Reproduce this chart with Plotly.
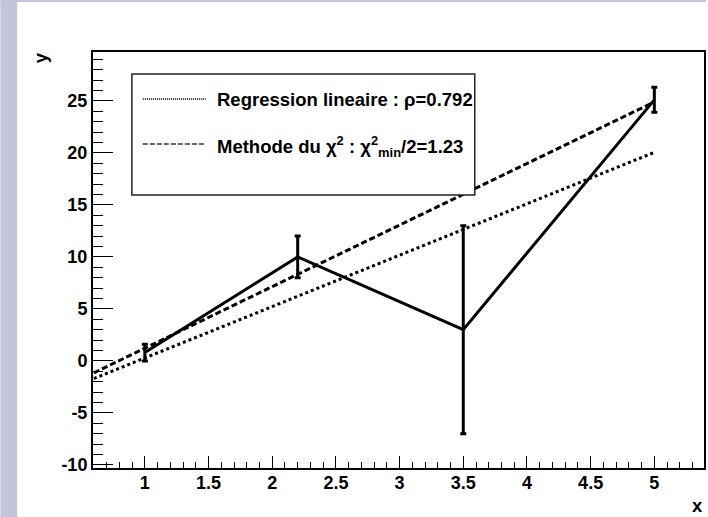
import plotly.graph_objects as go

# Data points with errors
x_pts = [1.0, 2.2, 3.5, 5.0]
y_pts = [0.8, 10.0, 3.0, 25.1]
ey_pts = [0.8, 2.0, 10.0, 1.2]

# Fit lines (end points)
fit_x = [0.6, 5.0]
reg_y = [-1.7, 20.05]    # Regression lineaire
chi2_y = [-1.15, 24.9]   # Methode du chi2

x_ticks = [1, 1.5, 2, 2.5, 3, 3.5, 4, 4.5, 5]
x_labels = ["1", "1.5", "2", "2.5", "3", "3.5", "4", "4.5", "5"]
y_ticks = [-10, -5, 0, 5, 10, 15, 20, 25]
y_labels = ["-10", "-5", "0", "5", "10", "15", "20", "25"]

W, H = 708, 517
L, T, R, B = 93, 52, 706, 468


def px(p):
    return (p - L) / (R - L)


def py(q):
    return (B - q) / (B - T)


fig = go.Figure()

fig.add_trace(go.Scatter(x=fit_x, y=reg_y, mode="lines",
                         line=dict(color="black", width=3, dash="3px,3px"),
                         showlegend=False))
fig.add_trace(go.Scatter(x=fit_x, y=chi2_y, mode="lines",
                         line=dict(color="black", width=3, dash="6px,3px"),
                         showlegend=False))
fig.add_trace(go.Scatter(x=x_pts, y=y_pts, mode="lines",
                         line=dict(color="black", width=3),
                         error_y=dict(type="data", array=ey_pts, visible=True,
                                      color="black", thickness=3, width=3),
                         showlegend=False))

tickfont = dict(family="Liberation Sans, Arial", size=18, color="black")

fig.update_xaxes(range=[0.593, 5.39], tickvals=x_ticks,
                 ticktext=["<b>%s</b>" % s for s in x_labels],
                 ticks="inside", ticklen=12, tickwidth=1, tickcolor="black",
                 minor=dict(dtick=0.1, tick0=0, ticks="inside", ticklen=6,
                            tickcolor="black", tickwidth=1),
                 showline=True, linecolor="black", linewidth=2, mirror=True,
                 showgrid=False, zeroline=False, tickfont=tickfont,
                 ticklabelstandoff=-3)
fig.update_yaxes(range=[-10.3, 29.7], tickvals=y_ticks,
                 ticktext=["<b>%s</b>" % s for s in y_labels],
                 ticks="inside", ticklen=20, tickwidth=1, tickcolor="black",
                 minor=dict(dtick=1, tick0=0, ticks="inside", ticklen=10,
                            tickcolor="black", tickwidth=1),
                 showline=True, linecolor="black", linewidth=2, mirror=True,
                 showgrid=False, zeroline=False, tickfont=tickfont)

shapes = [
    # lavender frame strips
    dict(type="rect", xref="paper", yref="paper", x0=px(0), x1=px(17),
         y0=py(H), y1=py(0), fillcolor="#c4c4dc", line=dict(width=0), layer="below"),
    dict(type="rect", xref="paper", yref="paper", x0=px(0), x1=px(W),
         y0=py(2), y1=py(0), fillcolor="#c4c4dc", line=dict(width=0), layer="below"),
    # legend box
    dict(type="rect", xref="paper", yref="paper", x0=px(132), x1=px(476),
         y0=py(195), y1=py(74), fillcolor="white", line=dict(color="#222", width=1.5)),
    # legend samples
    dict(type="line", xref="paper", yref="paper", x0=px(143), x1=px(206),
         y0=py(99), y1=py(99), line=dict(color="#333", width=2, dash="1px,1px")),
    dict(type="line", xref="paper", yref="paper", x0=px(143), x1=px(206),
         y0=py(144), y1=py(144), line=dict(color="#333", width=1.5, dash="5px,2px")),
]

lfont = dict(family="Liberation Sans, Arial", size=18.5, color="black")
annotations = [
    dict(xref="paper", yref="paper", x=px(215), y=py(99), xanchor="left", yanchor="middle",
         text="<b>Regression lineaire : ρ=0.792</b>", showarrow=False, font=lfont),
    dict(xref="paper", yref="paper", x=px(215), y=py(146), xanchor="left", yanchor="middle",
         text="<b>Methode du χ<sup>2</sup> : χ<sup>2</sup><sub>min</sub>/2=1.23</b>",
         showarrow=False, font=lfont),
    dict(xref="paper", yref="paper", x=px(699), y=py(505), xanchor="center", yanchor="middle",
         text="<b>x</b>", showarrow=False, font=lfont),
    dict(xref="paper", yref="paper", x=px(41), y=py(58), xanchor="center", yanchor="middle",
         text="<b>y</b>", textangle=-90, showarrow=False, font=lfont),
]

fig.update_layout(width=W, height=H,
                  margin=dict(l=L, t=T, r=W - R, b=H - B, pad=0),
                  paper_bgcolor="white", plot_bgcolor="white",
                  shapes=shapes, annotations=annotations, showlegend=False)

fig.write_html("out.html")
